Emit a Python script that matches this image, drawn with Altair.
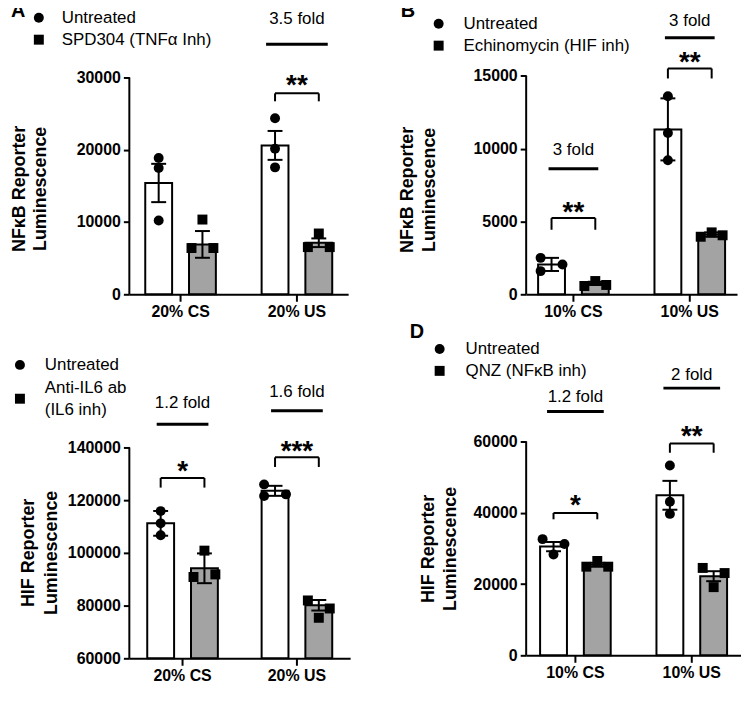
import altair as alt
import pandas as pd

FONT = "Liberation Sans"
OFFS = ["U1", "U2", "U3", "G", "T1", "T2", "T3"]
SHAPES = ["circle", "square"]

letters = ["A", "B", "C", "D"]

# ---------------- Panel A ----------------
a_groups = ["20% CS", "20% US"]
a_treat = ["Untreated", "SPD304 (TNFα Inh)"]
a_mean = [15400, 6900, 20600, 7130]
a_sem = [2650, 1850, 2000, 600]
a_points = [[18850, 17470, 10200], [6400, 10340, 6400], [24370, 20140, 17560], [6530, 8410, 6530]]
a_slots = [[2, 2, 2], [1, 2, 3], [2, 2, 2], [1, 2, 3]]
a_ticks = [0, 10000, 20000, 30000]
a_ytitle = ["NFκB Reporter", "Luminescence"]
a_ann_group = ["20% US"]
a_stars = ["**"]
a_star_y = [29900]
a_br_top = [27800]
a_br_end = [26700]
a_fold = ["3.5 fold"]
a_fold_line = [34580]
a_fold_text = [38030]

# ---------------- Panel B ----------------
b_groups = ["10% CS", "10% US"]
b_treat = ["Untreated", "Echinomycin (HIF inh)"]
b_mean = [2050, 750, 11320, 4100]
b_sem = [450, 110, 2130, 150]
b_points = [[2500, 2050, 1590], [570, 910, 640], [13590, 11070, 9200], [3950, 4250, 4050]]
b_slots = [[1, 3, 1], [1, 2, 3], [2, 2, 2], [1, 2, 3]]
b_ticks = [0, 5000, 10000, 15000]
b_ytitle = ["NFκB Reporter", "Luminescence"]
b_ann_group = ["10% CS", "10% US"]
b_stars = ["**", "**"]
b_star_y = [6145, 16450]
b_br_top = [5230, 15500]
b_br_end = [4430, 14815]
b_fold = ["3 fold", "3 fold"]
b_fold_line = [8623, 17615]
b_fold_text = [9900, 18775]

# ---------------- Panel C ----------------
c_groups = ["20% CS", "20% US"]
c_treat = ["Untreated", "Anti-IL6 ab\n(IL6 inh)"]
c_mean = [111200, 94150, 123540, 80120]
c_sem = [4700, 5650, 1900, 2000]
c_points = [[115850, 111200, 106700], [90850, 100850, 91830], [125980, 121600, 122200], [81950, 75370, 78900]]
c_slots = [[2, 2, 2], [1, 2, 3], [1, 1, 3], [1, 2, 3]]
c_ticks = [60000, 80000, 100000, 120000, 140000]
c_ytitle = ["HIF Reporter", "Luminescence"]
c_ann_group = ["20% CS", "20% US"]
c_stars = ["*", "***"]
c_star_y = [133790, 141460]
c_br_top = [128420, 136240]
c_br_end = [124770, 132590]
c_fold = ["1.2 fold", "1.6 fold"]
c_fold_line = [148770, 153880]
c_fold_text = [156900, 160930]

# ---------------- Panel D ----------------
d_groups = ["10% CS", "10% US"]
d_treat = ["Untreated", "QNZ (NFκB inh)"]
d_mean = [30500, 25400, 44900, 22200]
d_sem = [1300, 550, 4050, 1400]
d_points = [[32600, 31250, 28290], [24870, 26480, 24870], [53260, 43100, 39680], [24520, 19130, 23080]]
d_slots = [[1, 3, 2], [1, 2, 3], [2, 2, 2], [1, 2, 3]]
d_ticks = [0, 20000, 40000, 60000]
d_ytitle = ["HIF Reporter", "Luminescence"]
d_ann_group = ["10% CS", "10% US"]
d_stars = ["*", "**"]
d_star_y = [43990, 63500]
d_br_top = [39950, 59450]
d_br_end = [38170, 56840]
d_fold = ["1.2 fold", "2 fold"]
d_fold_line = [68430, 74970]
d_fold_text = [72550, 78580]

# ---------------- layout / style per panel (pixels) ----------------
geo_A = dict(W=220, H=295, s=117, ymin=0, ymax=40596, lx=-119, fw=62,
             tx=[-110, -89], ty=189, sym_x=-91, txt_x=-68, leg_y=[17, 39])
geo_B = dict(W=212, H=295, s=117, ymin=0, ymax=20141, lx=-126, fw=50,
             tx=[-119, -97], ty=190, sym_x=-88, txt_x=-63, leg_y=[23, 45])
geo_C = dict(W=222, H=338, s=115, ymin=60000, ymax=187547, lx=-137, fw=52,
             tx=[-101, -78], ty=232, sym_x=-110, txt_x=-85, leg_y=[43, 77])
geo_D = dict(W=216, H=335, s=117, ymin=0, ymax=93488, lx=-117, fw=57,
             tx=[-98, -76], ty=228, sym_x=-87, txt_x=-61, leg_y=[27, 49])
GAP_TOP = [1, 177]       # space before A, between A and B
GAP_BOT = [18, 152]      # space before C, between C and D
ROW_GAP = 28


def const_text(txt, x, y, **kw):
    return alt.Chart(pd.DataFrame({"t": [txt]})).mark_text(font=FONT, color="black", **kw).encode(
        x=alt.value(x), y=alt.value(y), text="t:N")


def panel(letter, groups, treat, means, sems, points, slots, ticks, ytitle,
          ann_group, stars, star_y, br_top, br_end, fold, fold_line, fold_text, geo):
    W, H, s = geo["W"], geo["H"], geo["s"]
    ymin, ymax = geo["ymin"], geo["ymax"]
    pi = 1 - 77.0 / s
    po = (W / s - 2 + pi) / 2
    xscale = alt.Scale(domain=groups, paddingInner=pi, paddingOuter=po)
    xaxis = alt.Axis(title=None, labelAngle=0, labelFontSize=16, labelFontWeight="bold",
                     labelFont=FONT, labelColor="black", labelPadding=2, tickSize=7,
                     tickWidth=2, tickColor="black", domainWidth=2, domainColor="black",
                     grid=False)
    yscale = alt.Scale(domain=[ymin, ymax], nice=False, zero=False)
    yaxis = alt.Axis(values=ticks, title=None,
                     labelFont=FONT, labelFontSize=16, labelFontWeight="bold",
                     labelColor="black", labelPadding=3, tickSize=6, tickWidth=2,
                     tickColor="black", domain=False, grid=False, format="d")
    X = alt.X("grp:N", scale=xscale, axis=xaxis)
    XO = alt.XOffset("off:N", scale=alt.Scale(domain=OFFS, paddingInner=0, paddingOuter=0))

    def Y(f):
        return alt.Y(f, scale=yscale, axis=yaxis)

    bg = [groups[0], groups[0], groups[1], groups[1]]
    bt = [treat[0], treat[1], treat[0], treat[1]]
    bo = ["U2", "T2", "U2", "T2"]
    bars = pd.DataFrame({
        "grp": bg, "trt": bt, "off": bo, "mean": means,
        "lo": [m - e for m, e in zip(means, sems)],
        "hi": [m + e for m, e in zip(means, sems)],
        "base": [ymin] * 4,
    })
    caps = pd.concat([
        bars[["grp", "off"]].assign(v=bars["lo"]),
        bars[["grp", "off"]].assign(v=bars["hi"]),
    ])
    rows = []
    for i in range(4):
        pre = "U" if i % 2 == 0 else "T"
        for v, sl in zip(points[i], slots[i]):
            rows.append({"grp": bg[i], "trt": bt[i], "off": f"{pre}{sl}", "val": v})
    pts = pd.DataFrame(rows)
    ann = pd.DataFrame({"grp": ann_group, "stars": stars, "sy": star_y, "bt": br_top,
                        "be": br_end, "fold": fold, "fl": fold_line, "ft": fold_text})
    ends = pd.concat([ann.assign(off="U2"), ann.assign(off="T2")])

    bar = alt.Chart(bars).mark_bar(size=27, stroke="black", strokeWidth=2, opacity=1).encode(
        x=X, xOffset=XO, y=Y("mean:Q"), y2="base:Q",
        fill=alt.Fill("trt:N", scale=alt.Scale(domain=treat, range=["white", "#a3a3a3"]), legend=None))
    err = alt.Chart(bars).mark_rule(color="black", strokeWidth=2, opacity=1).encode(
        x=X, xOffset=XO, y=Y("lo:Q"), y2="hi:Q")
    cap = alt.Chart(caps).mark_tick(color="black", size=15, thickness=2, opacity=1).encode(
        x=X, xOffset=XO, y=Y("v:Q"))
    pt = alt.Chart(pts).mark_point(filled=True, size=100, opacity=1, color="black").encode(
        x=X, xOffset=XO, y=Y("val:Q"),
        shape=alt.Shape("trt:N", scale=alt.Scale(domain=treat, range=SHAPES), legend=None))
    brh = alt.Chart(ann).mark_tick(color="black", size=44, thickness=2, opacity=1).encode(
        x=X, y=Y("bt:Q"))
    bre = alt.Chart(ends).mark_rule(color="black", strokeWidth=2, opacity=1).encode(
        x=X, xOffset=XO, y=Y("bt:Q"), y2="be:Q")
    st = alt.Chart(ann).mark_text(font=FONT, fontSize=28, fontWeight="bold", baseline="alphabetic",
                                  dy=16, color="black").encode(x=X, y=Y("sy:Q"), text="stars:N")
    fl = alt.Chart(ann).mark_tick(color="black", size=geo["fw"], thickness=3, opacity=1).encode(
        x=X, y=Y("fl:Q"))
    ft = alt.Chart(ann).mark_text(font=FONT, fontSize=17, baseline="middle", color="black").encode(
        x=X, y=Y("ft:Q"), text="fold:N")
    yline = alt.Chart(pd.DataFrame({"a": [ymin], "b": [ticks[-1]]})).mark_rule(
        color="black", strokeWidth=2, opacity=1).encode(x=alt.value(0), y=Y("a:Q"), y2="b:Q")

    layers = [bar, err, cap, pt, brh, bre, st, fl, ft, yline]
    # panel letter
    layers.append(const_text(letter, geo["lx"], 0, fontSize=20, fontWeight="bold",
                             align="left", baseline="top"))
    # y title (two rotated lines)
    for j, line in enumerate(ytitle):
        layers.append(const_text(line, geo["tx"][j], geo["ty"], fontSize=18, fontWeight="bold",
                                 angle=270, align="center", baseline="middle"))
    # legend (drawn as marks)
    for i, lab in enumerate(treat):
        yc = geo["leg_y"][i]
        layers.append(alt.Chart(pd.DataFrame({"trt": [lab]})).mark_point(
            filled=True, size=100, opacity=1, color="black", shape=SHAPES[i]).encode(
            x=alt.value(geo["sym_x"]), y=alt.value(yc)))
        parts = lab.split("\n")
        for j, line in enumerate(parts):
            layers.append(const_text(line, geo["txt_x"], yc + (j - (len(parts) - 1) / 2) * 22,
                                     fontSize=17, align="left", baseline="middle"))

    return alt.layer(*layers).properties(width=W, height=H)


def spacer(w):
    return alt.Chart(pd.DataFrame({"v": [""]})).mark_text(opacity=0).encode(
        x=alt.value(0), y=alt.value(0), text="v:N").properties(width=w, height=1)


pA = panel(letters[0], a_groups, a_treat, a_mean, a_sem, a_points, a_slots, a_ticks, a_ytitle,
           a_ann_group, a_stars, a_star_y, a_br_top, a_br_end, a_fold, a_fold_line, a_fold_text, geo_A)
pB = panel(letters[1], b_groups, b_treat, b_mean, b_sem, b_points, b_slots, b_ticks, b_ytitle,
           b_ann_group, b_stars, b_star_y, b_br_top, b_br_end, b_fold, b_fold_line, b_fold_text, geo_B)
pC = panel(letters[2], c_groups, c_treat, c_mean, c_sem, c_points, c_slots, c_ticks, c_ytitle,
           c_ann_group, c_stars, c_star_y, c_br_top, c_br_end, c_fold, c_fold_line, c_fold_text, geo_C)
pD = panel(letters[3], d_groups, d_treat, d_mean, d_sem, d_points, d_slots, d_ticks, d_ytitle,
           d_ann_group, d_stars, d_star_y, d_br_top, d_br_end, d_fold, d_fold_line, d_fold_text, geo_D)

res = dict(x="independent", y="independent", xOffset="independent", shape="independent", fill="independent")
cells = [spacer(GAP_TOP[0]), pA, spacer(GAP_TOP[1]), pB,
         spacer(GAP_BOT[0]), pC, spacer(GAP_BOT[1]), pD]
chart = (alt.concat(*cells, columns=4, align="none", bounds="flush",
                    spacing=alt.RowColnumber(row=ROW_GAP, column=0))
         .resolve_scale(**res)
         .properties(padding={"left": -15, "top": -15, "right": 0, "bottom": 0})
         .configure_view(stroke=None))

chart.save("out.html", embed_options={"renderer": "svg", "actions": False})
